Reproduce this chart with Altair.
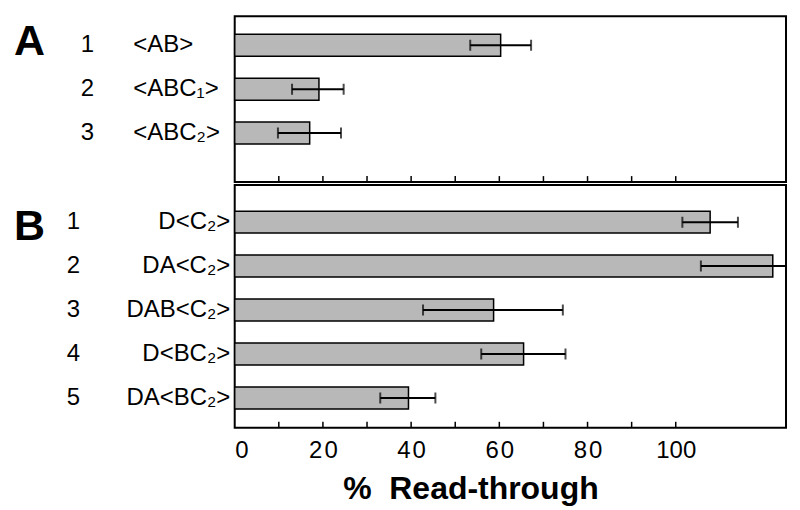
import altair as alt
import pandas as pd

# ---- data ----
a_nums = ["1", "2", "3"]
a_labels = ["<AB>", "<ABC\u2081>", "<ABC\u2082>"]
a_values = [60.3, 19.1, 17.0]
a_lo = [53.4, 13.0, 9.8]
a_hi = [67.2, 24.7, 24.1]

b_nums = ["1", "2", "3", "4", "5"]
b_labels = ["D<C\u2082>", "DA<C\u2082>", "DAB<C\u2082>", "D<BC\u2082>", "DA<BC\u2082>"]
b_values = [107.8, 122.0, 58.7, 65.5, 39.4]
b_lo = [101.5, 105.7, 42.7, 55.9, 33.0]
b_hi = [114.1, 138.3, 74.4, 75.0, 45.5]

tick_values = [10, 20, 30, 40, 50, 60, 70, 80, 90, 100]
x_domain = [0, 125]

FONT = "Liberation Sans"
W = 552
HA = 166
HB = 243
BAR_FILL = "#b8b8b8"


def panel(nums, labels, values, lo, hi, height, letter, letter_y, label_align,
          label_x, num_x, y_scale, show_axis):
    df = pd.DataFrame({"num": nums, "label": labels, "value": values,
                       "lo": lo, "hi": hi})
    ticks = pd.DataFrame({"v": tick_values})
    let = pd.DataFrame({"t": [letter]})

    if show_axis:
        xaxis = alt.Axis(
            values=[0, 20, 40, 60, 80, 100],
            labelExpr="datum.value == 100 ? '100' : join(split(datum.label, ''), '\u200a')",
            labelFont=FONT, labelFontSize=24, labelColor="black",
            labelPadding=11, ticks=False, domain=False, grid=False,
            title="%\u00a0\u00a0Read-through", titleFont=FONT,
            titleFontSize=32, titleFontWeight="bold", titleColor="black",
            titleX=236, titleY=71, titleAlign="center",
            titleBaseline="alphabetic",
        )
    else:
        xaxis = None

    x = alt.X("value:Q", scale=alt.Scale(domain=x_domain, nice=False, zero=True),
              axis=xaxis)
    y = alt.Y("label:N", sort=labels, scale=y_scale, axis=None)

    bars = alt.Chart(df).mark_bar(
        fill=BAR_FILL, stroke="black", strokeWidth=1.5, orient="horizontal"
    ).encode(x=x, y=y)

    err = alt.Chart(df).mark_rule(color="black", strokeWidth=2, clip=True).encode(
        x=alt.X("lo:Q"), x2="hi:Q", y=y)
    cap_lo = alt.Chart(df).mark_tick(color="black", thickness=2, size=11,
                                     clip=True, orient="vertical").encode(
        x=alt.X("lo:Q"), y=y)
    cap_hi = alt.Chart(df).mark_tick(color="black", thickness=2, size=11,
                                     clip=True, orient="vertical").encode(
        x=alt.X("hi:Q"), y=y)

    inner_ticks = alt.Chart(ticks).mark_rule(color="black", strokeWidth=1.5).encode(
        x=alt.X("v:Q"), y=alt.value(height), y2=alt.value(height - 6))

    num_text = alt.Chart(df).mark_text(
        font=FONT, fontSize=24, align="center", baseline="middle", color="black"
    ).encode(x=alt.value(num_x), y=y, text="num:N")
    lab_text = alt.Chart(df).mark_text(
        font=FONT, fontSize=24, align=label_align, baseline="middle", color="black"
    ).encode(x=alt.value(label_x), y=y, text="label:N")
    letter_text = alt.Chart(let).mark_text(
        font=FONT, fontSize=43, fontWeight="bold", align="left",
        baseline="alphabetic", color="black"
    ).encode(x=alt.value(-221), y=alt.value(letter_y), text="t:N")

    return alt.layer(bars, err, cap_lo, cap_hi, inner_ticks, num_text,
                     lab_text, letter_text).properties(width=W, height=height)


scale_a = alt.Scale(paddingInner=0.5, paddingOuter=0.636, align=0.32)
scale_b = alt.Scale(paddingInner=0.5, paddingOuter=0.511, align=0.58)

pa = panel(a_nums, a_labels, a_values, a_lo, a_hi, HA, "A", 39, "left",
           -101.5, -147.5, scale_a, False)
pb = panel(b_nums, b_labels, b_values, b_lo, b_hi, HB, "B", 55, "right",
           -4.5, -161.5, scale_b, True)

chart = alt.vconcat(pa, pb, spacing=0).resolve_scale(x="shared").properties(
    padding={"left": 5, "top": 7, "right": 5, "bottom": 5}
).configure(background="white").configure_view(stroke="black", strokeWidth=2)

chart.save("out.html", embed_options={"renderer": "svg", "actions": False})
